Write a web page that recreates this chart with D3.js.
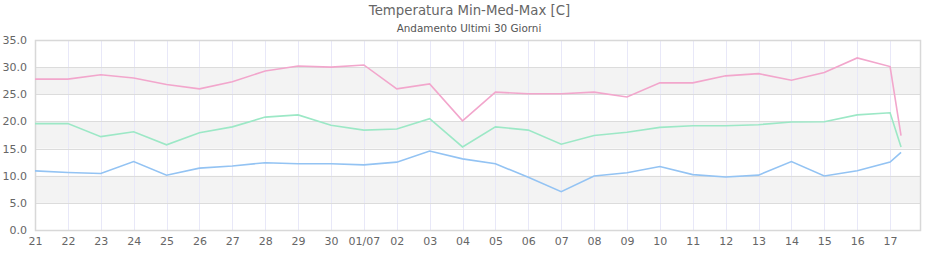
<!DOCTYPE html>
<html>
<head>
<meta charset="utf-8">
<script src="https://cdn.jsdelivr.net/npm/d3@7"></script>
<style>
  body { margin: 0; background: #fff; }
  svg { display: block; font-family: 'DejaVu Sans', sans-serif; }
</style>
</head>
<body>
<svg></svg>
<script>
// dates of the readings (last one is the partial current day)
const dates = [
    '2020-06-21', '2020-06-22', '2020-06-23', '2020-06-24', '2020-06-25', '2020-06-26',
    '2020-06-27', '2020-06-28', '2020-06-29', '2020-06-30', '2020-07-01', '2020-07-02',
    '2020-07-03', '2020-07-04', '2020-07-05', '2020-07-06', '2020-07-07', '2020-07-08',
    '2020-07-09', '2020-07-10', '2020-07-11', '2020-07-12', '2020-07-13', '2020-07-14',
    '2020-07-15', '2020-07-16', '2020-07-17', '2020-07-17T08:00'
];
const tMax = [27.8, 27.8, 28.6, 28.0, 26.8, 26.0, 27.3, 29.3, 30.2, 30.0, 30.4, 26.0,
    26.9, 20.1, 25.4, 25.1, 25.1, 25.4, 24.5, 27.1, 27.1, 28.4, 28.8, 27.6, 29.0, 31.7, 30.1, 17.4];
const tMed = [19.6, 19.6, 17.2, 18.1, 15.7, 17.9, 19.0, 20.8, 21.2, 19.3, 18.4, 18.6,
    20.5, 15.3, 19.0, 18.4, 15.8, 17.4, 18.0, 18.9, 19.2, 19.2, 19.4, 19.9, 19.95, 21.2, 21.6, 15.3];
const tMin = [10.9, 10.6, 10.4, 12.6, 10.1, 11.4, 11.8, 12.4, 12.2, 12.2, 12.0, 12.5,
    14.55, 13.1, 12.2, 9.7, 7.06, 9.95, 10.55, 11.7, 10.2, 9.76, 10.1, 12.6, 9.95, 10.9, 12.5, 14.3];
const yTicks = [0, 5, 10, 15, 20, 25, 30, 35];
const xTickLabels = ['21', '22', '23', '24', '25', '26', '27', '28', '29', '30', '01/07',
    '02', '03', '04', '05', '06', '07', '08', '09', '10', '11', '12', '13', '14', '15', '16', '17'];

const svgWidth = 940;
const svgHeight = 260;
const margin = { top: 40, right: 20, bottom: 30, left: 35 };
const width = svgWidth - margin.left - margin.right;
const height = svgHeight - margin.top - margin.bottom;

const parse = s => new Date(s + (s.length > 10 ? ':00Z' : 'T00:00:00Z'));
const xDates = dates.map(parse);

const xScale = d3.scaleUtc()
    .domain([parse('2020-06-21'), parse('2020-07-17T21:50')])
    .range([0, width]);

const yScale = d3.scaleLinear()
    .domain([0, 35])
    .range([height, 0]);

const root = d3.select('svg')
    .attr('width', svgWidth)
    .attr('height', svgHeight);

root.append('text')
    .attr('x', 469.5)
    .attr('y', 15)
    .attr('text-anchor', 'middle')
    .attr('fill', '#666')
    .attr('font-size', '13.3px')
    .text('Temperatura Min-Med-Max [C]');

root.append('text')
    .attr('x', 469)
    .attr('y', 32)
    .attr('text-anchor', 'middle')
    .attr('fill', '#555')
    .attr('font-size', '10.4px')
    .text('Andamento Ultimi 30 Giorni');

const svg = root.append('g')
    .attr('transform', `translate(${margin.left}, ${margin.top})`);

// alternating bands
const bands = [[5, 10], [15, 20], [25, 30]];
svg.selectAll('.band')
    .data(bands)
    .enter().append('rect')
    .attr('x', 0)
    .attr('y', d => yScale(d[1]))
    .attr('width', width)
    .attr('height', d => yScale(d[0]) - yScale(d[1]))
    .attr('fill', '#f3f3f3');

// vertical day grid
const tickDates = xTickLabels.map((d, i) => xDates[i]);
svg.selectAll('.vgrid')
    .data(tickDates)
    .enter().append('line')
    .attr('x1', d => Math.round(xScale(d)) + 0.5)
    .attr('x2', d => Math.round(xScale(d)) + 0.5)
    .attr('y1', 0)
    .attr('y2', height)
    .attr('stroke', '#e8e8f8');

// horizontal grid
svg.selectAll('.hgrid')
    .data(yTicks)
    .enter().append('line')
    .attr('x1', 0)
    .attr('x2', width)
    .attr('y1', d => Math.round(yScale(d)) + 0.5)
    .attr('y2', d => Math.round(yScale(d)) + 0.5)
    .attr('stroke', '#dcdcdc');

svg.append('rect')
    .attr('x', 0.5)
    .attr('y', 0.5)
    .attr('width', width)
    .attr('height', height)
    .attr('fill', 'none')
    .attr('stroke', '#d8d8d8')
    .attr('stroke-width', 1.5);

// axes labels
const yAxis = svg.append('g')
    .call(d3.axisLeft(yScale).tickValues(yTicks).tickFormat(d3.format('.1f')).tickSize(0).tickPadding(8));
yAxis.select('.domain').remove();
yAxis.selectAll('text')
    .attr('fill', '#666')
    .attr('font-size', '11px')
    .attr('font-family', 'DejaVu Sans');

const xAxis = svg.append('g')
    .attr('transform', `translate(0, ${height})`)
    .call(d3.axisBottom(xScale).tickValues(tickDates).tickFormat((d, i) => xTickLabels[i]).tickSize(0).tickPadding(7));
xAxis.select('.domain').remove();
xAxis.selectAll('text')
    .attr('fill', '#666')
    .attr('font-size', '11px')
    .attr('font-family', 'DejaVu Sans');

const line = d3.line()
    .x((d, i) => xScale(xDates[i]))
    .y(d => yScale(d));

const series = [
    { values: tMax, color: '#f2a6cc' },
    { values: tMed, color: '#9ce8c6' },
    { values: tMin, color: '#93c3f3' }
];

svg.selectAll('.series')
    .data(series)
    .enter().append('path')
    .attr('d', d => line(d.values))
    .attr('fill', 'none')
    .attr('stroke', d => d.color)
    .attr('stroke-width', 1.6);
</script>
</body>
</html>
